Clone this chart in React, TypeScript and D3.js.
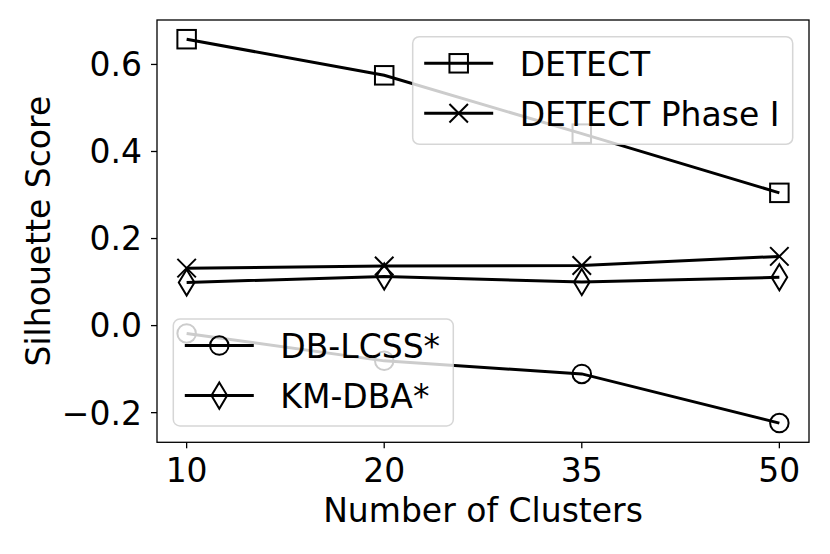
import React from "react";
import * as d3 from "d3";

// Number of clusters on the x axis
const clusters = ["10", "20", "35", "50"];

// Silhouette scores
const detect = [0.658, 0.575, 0.441, 0.305];
const detectPhase1 = [0.132, 0.137, 0.138, 0.159];
const dbLcss = [-0.018, -0.081, -0.111, -0.224];
const kmDba = [0.099, 0.113, 0.1, 0.111];

const yTicks = [-0.2, 0.0, 0.2, 0.4, 0.6];

type Marker = "square" | "x" | "circle" | "thinDiamond";

const series: { name: string; values: number[]; marker: Marker }[] = [
  { name: "DETECT", values: detect, marker: "square" },
  { name: "DETECT Phase I", values: detectPhase1, marker: "x" },
  { name: "DB-LCSS*", values: dbLcss, marker: "circle" },
  { name: "KM-DBA*", values: kmDba, marker: "thinDiamond" },
];

const W = 830;
const H = 554;
const box = { left: 157, top: 20, right: 809, bottom: 442.3 };
const FONT = "'DejaVu Sans', sans-serif";
const FS = 33;
const MS = 18.5; // marker size in px
const LW = 3;
const MEW = 2;

const MarkerGlyph: React.FC<{ type: Marker; x: number; y: number }> = ({ type, x, y }) => {
  const h = MS / 2;
  const common = { fill: "none", stroke: "#000", strokeWidth: MEW };
  if (type === "square")
    return <rect x={x - h} y={y - h} width={MS} height={MS} {...common} />;
  if (type === "circle") return <circle cx={x} cy={y} r={h} {...common} />;
  if (type === "x")
    return (
      <path
        d={`M${x - h},${y - h}L${x + h},${y + h}M${x - h},${y + h}L${x + h},${y - h}`}
        {...common}
      />
    );
  const dh = (MS * Math.SQRT2) / 2;
  const dw = dh * 0.6;
  return (
    <path d={`M${x},${y - dh}L${x + dw},${y}L${x},${y + dh}L${x - dw},${y}Z`} {...common} />
  );
};

const Legend: React.FC<{
  x: number;
  y: number;
  w: number;
  h: number;
  items: { name: string; marker: Marker }[];
}> = ({ x, y, w, h, items }) => {
  const rowH = 50;
  const first = y + 26.6;
  const handleX0 = x + 11.5;
  const handleLen = 69;
  return (
    <g>
      <rect
        x={x}
        y={y}
        width={w}
        height={h}
        rx={6.6}
        fill="#fff"
        fillOpacity={0.8}
        stroke="#cccccc"
        strokeOpacity={0.8}
        strokeWidth={1.5}
      />
      {items.map((it, i) => {
        const cy = first + i * rowH;
        return (
          <g key={it.name}>
            <line
              x1={handleX0}
              x2={handleX0 + handleLen}
              y1={cy}
              y2={cy}
              stroke="#000"
              strokeWidth={LW}
            />
            <MarkerGlyph type={it.marker} x={handleX0 + handleLen / 2} y={cy} />
            <text x={x + 107} y={cy} dy="0.39em" fontSize={FS} fontFamily={FONT}>
              {it.name}
            </text>
          </g>
        );
      })}
    </g>
  );
};

const App: React.FC = () => {
  const x = d3
    .scalePoint<string>()
    .domain(clusters)
    .range([box.left, box.right])
    .padding(0.15);

  const all = series.flatMap((s) => s.values);
  const lo = d3.min(all) as number;
  const hi = d3.max(all) as number;
  const pad = (hi - lo) * 0.05;
  const y = d3
    .scaleLinear()
    .domain([lo - pad, hi + pad])
    .range([box.bottom, box.top]);

  const line = d3
    .line<number>()
    .x((_, i) => x(clusters[i]) as number)
    .y((d) => y(d));

  const fmt = (v: number) => d3.format(".1f")(v).replace("-", "\u2212");

  return (
    <svg
      width={W}
      height={H}
      style={{ position: "absolute", left: 0, top: 0, background: "#fff" }}
    >
      <rect width={W} height={H} fill="#fff" />

      {/* series */}
      {series.map((s) => (
        <g key={s.name}>
          <path d={line(s.values) || ""} fill="none" stroke="#000" strokeWidth={LW} />
          {s.values.map((v, i) => (
            <MarkerGlyph key={i} type={s.marker} x={x(clusters[i]) as number} y={y(v)} />
          ))}
        </g>
      ))}

      {/* spines */}
      <rect
        x={box.left}
        y={box.top}
        width={box.right - box.left}
        height={box.bottom - box.top}
        fill="none"
        stroke="#000"
        strokeWidth={1.3}
      />

      {/* y axis */}
      {yTicks.map((t) => (
        <g key={t}>
          <line x1={box.left - 6} x2={box.left} y1={y(t)} y2={y(t)} stroke="#000" strokeWidth={1.3} />
          <text
            x={box.left - 15}
            y={y(t)}
            dy="0.36em"
            textAnchor="end"
            fontSize={FS}
            fontFamily={FONT}
          >
            {fmt(t)}
          </text>
        </g>
      ))}

      {/* x axis */}
      {clusters.map((c) => (
        <g key={c}>
          <line
            x1={x(c)}
            x2={x(c)}
            y1={box.bottom}
            y2={box.bottom + 6}
            stroke="#000"
            strokeWidth={1.3}
          />
          <text
            x={x(c)}
            y={box.bottom + 39.4}
            textAnchor="middle"
            fontSize={FS}
            fontFamily={FONT}
          >
            {c}
          </text>
        </g>
      ))}

      <text
        x={(box.left + box.right) / 2}
        y={521.7}
        textAnchor="middle"
        fontSize={FS}
        fontFamily={FONT}
      >
        Number of Clusters
      </text>
      <text
        transform={`translate(50,${(box.top + box.bottom) / 2}) rotate(-90)`}
        textAnchor="middle"
        fontSize={FS}
        fontFamily={FONT}
      >
        Silhouette Score
      </text>

      {/* legends drawn over the data */}
      <Legend x={412.7} y={36.7} w={380} h={107.6} items={series.slice(0, 2)} />
      <Legend x={173.3} y={319} w={280} h={107} items={series.slice(2)} />
    </svg>
  );
};

export default App;
